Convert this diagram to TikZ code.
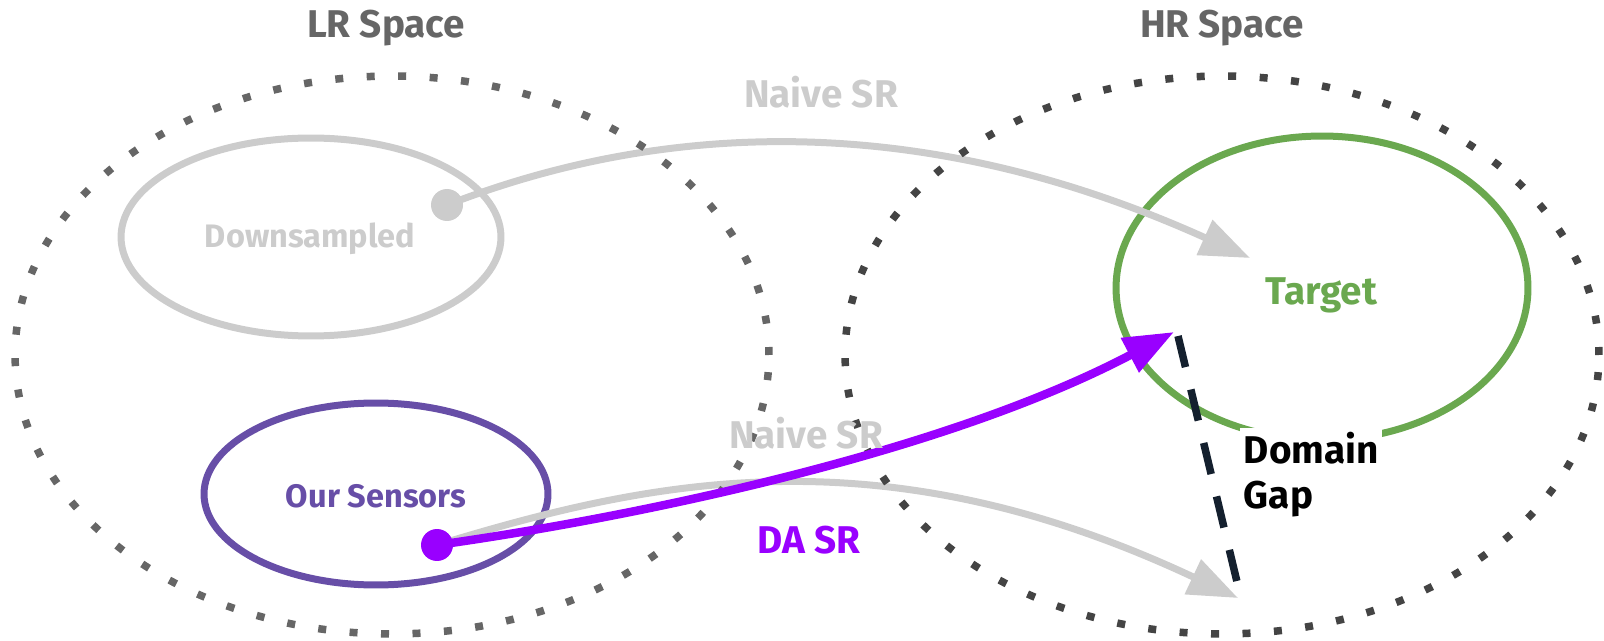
\documentclass[tikz,border=0pt]{standalone}
\usepackage{fontspec}
\setmainfont{Fira Sans}
\usetikzlibrary{positioning,arrows.meta,shapes.geometric}
\definecolor{lrdot}{HTML}{666666}
\definecolor{hrdot}{HTML}{444444}
\definecolor{faint}{HTML}{CCCCCC}
\definecolor{sens}{HTML}{674EA7}
\definecolor{tgt}{HTML}{6AA84F}
\definecolor{da}{HTML}{9900FF}
\definecolor{gapc}{HTML}{14202E}

\begin{document}
\begin{tikzpicture}[x=0.02cm, y=-0.02cm,
  space/.style={ellipse, draw=#1, line width=0.15cm, dash pattern=on 0.16cm off 0.47cm, minimum width=15.08cm, minimum height=11.16cm, inner sep=0},
  ring/.style={ellipse, draw=#1, line width=0.14cm, inner sep=0},
  dot/.style={circle, fill=#1, minimum size=0.64cm, inner sep=0},
  sr/.style={-{Triangle[length=1cm, width=0.74cm]}, line width=0.14cm, draw=#1},
  gapline/.style={draw=gapc, line width=0.15cm, dash pattern=on 0.64cm off 0.46cm},
  lab/.style={font=\fontsize{22}{26}\selectfont\bfseries, text=#1, anchor=base, inner sep=0},
  small/.style={lab=#1, font=\fontsize{18.5}{22}\selectfont\bfseries}]
\useasboundingbox (0,0) rectangle (1604,641);
% ---------------- inner sets
\node[ring=faint, minimum width=7.6cm, minimum height=3.96cm] (down) at (311,237) {};
\node[ring=sens, minimum width=6.88cm, minimum height=3.64cm] (sens) at (376,494) {};
\node[ring=tgt, minimum width=8.24cm, minimum height=6.08cm] (target) at (1322,288) {};
\coordinate (dsrc) at (447,205);
\coordinate (ssrc) at (437,545);
\coordinate (hit) at (1250,258);
\coordinate (miss) at (1238,598);
\coordinate (near) at (1174,332);
% ---------------- naive SR paths
\draw[sr=faint] (dsrc) .. controls (640,130) and (900,100) .. (hit);
\draw[sr=faint] (ssrc) .. controls (650,480) and (880,430) .. (miss);
% ---------------- the two spaces
\node[space=lrdot] (lr) at (392,355) {};
\node[space=hrdot] (hr) at (1222,355) {};
% ---------------- DA SR path
\draw[sr=da, line width=0.17cm] (ssrc) .. controls (650,515) and (950,450) .. (near);
\node[dot=faint] (dsdot) at (dsrc) {};
\node[dot=da] (ssdot) at (ssrc) {};
% ---------------- domain gap
\coordinate (gaptop) at (1178,336);
\coordinate (gapbot) at (1238,586);
\draw[gapline] (gaptop) -- (gapbot);
% ---------------- labels
\node[lab=lrdot] (lrlab) at (386,38) {LR Space};
\node[lab=lrdot] (hrlab) at (1222,38) {HR Space};
\node[lab=faint] (naive1) at (821,108) {Naive SR};
\node[lab=faint] (naive2) at (806,448) {Naive SR};
\node[lab=da] (dalab) at (809,553) {DA SR};
\node[small=faint] (downlab) at (310,248) {Downsampled};
\node[small=sens] (senslab) at (376,507) {Our Sensors};
\node[lab=tgt] (tgtlab) at (1321,305) {Target};
\node[lab=black, anchor=north west, align=left, fill=white, inner sep=2pt, font=\fontsize{22}{25.6}\selectfont\bfseries] (gaplab) at (1240,428) {Domain\\Gap};
\end{tikzpicture}
\end{document}
